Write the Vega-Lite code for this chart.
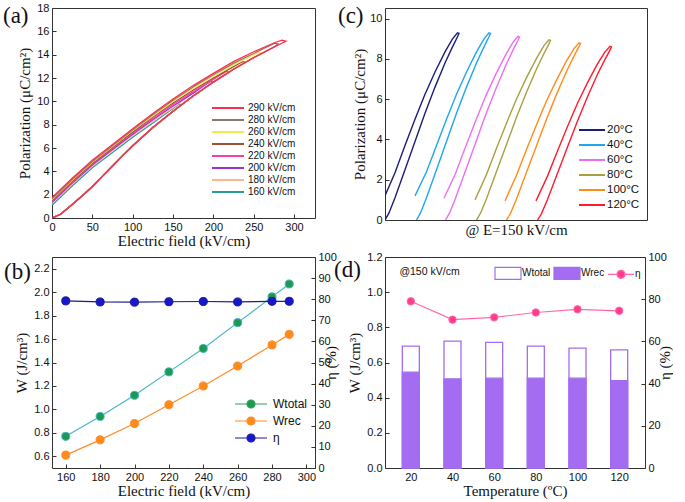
{
"$schema":"https://vega.github.io/schema/vega-lite/v6.json",
"background":"white",
"padding":{"left":2,"top":1,"right":0,"bottom":0},
"datasets":{
"pe":[
{"s":"160 kV/cm","i":0,"E":0,"P":0},{"s":"160 kV/cm","i":1,"E":10,"P":0.3},{"s":"160 kV/cm","i":2,"E":20,"P":0.85},{"s":"160 kV/cm","i":3,"E":30,"P":1.45},{"s":"160 kV/cm","i":4,"E":40,"P":2.05},{"s":"160 kV/cm","i":5,"E":50,"P":2.7},{"s":"160 kV/cm","i":6,"E":62,"P":3.55},{"s":"160 kV/cm","i":7,"E":75,"P":4.45},{"s":"160 kV/cm","i":8,"E":87,"P":5.3},{"s":"160 kV/cm","i":9,"E":100,"P":6.2},{"s":"160 kV/cm","i":10,"E":125,"P":7.75},{"s":"160 kV/cm","i":11,"E":150,"P":9.15},
{"s":"160 kV/cm","i":50,"E":160,"P":9.72},{"s":"160 kV/cm","i":100,"E":157,"P":9.78},{"s":"160 kV/cm","i":101,"E":150,"P":9.38},{"s":"160 kV/cm","i":102,"E":125,"P":8.15},{"s":"160 kV/cm","i":103,"E":100,"P":6.92},{"s":"160 kV/cm","i":104,"E":75,"P":5.62},{"s":"160 kV/cm","i":105,"E":50,"P":4.3},{"s":"160 kV/cm","i":106,"E":25,"P":2.75},{"s":"160 kV/cm","i":107,"E":0,"P":1.1},
{"s":"180 kV/cm","i":0,"E":0,"P":0},{"s":"180 kV/cm","i":1,"E":10,"P":0.3},{"s":"180 kV/cm","i":2,"E":20,"P":0.85},{"s":"180 kV/cm","i":3,"E":30,"P":1.45},{"s":"180 kV/cm","i":4,"E":40,"P":2.05},{"s":"180 kV/cm","i":5,"E":50,"P":2.7},{"s":"180 kV/cm","i":6,"E":62,"P":3.55},{"s":"180 kV/cm","i":7,"E":75,"P":4.45},{"s":"180 kV/cm","i":8,"E":87,"P":5.3},{"s":"180 kV/cm","i":9,"E":100,"P":6.2},{"s":"180 kV/cm","i":10,"E":125,"P":7.75},{"s":"180 kV/cm","i":11,"E":150,"P":9.15},{"s":"180 kV/cm","i":12,"E":175,"P":10.45},
{"s":"180 kV/cm","i":50,"E":180,"P":10.7},{"s":"180 kV/cm","i":100,"E":176,"P":10.77},{"s":"180 kV/cm","i":101,"E":150,"P":9.45},{"s":"180 kV/cm","i":102,"E":125,"P":8.3},{"s":"180 kV/cm","i":103,"E":100,"P":7.07},{"s":"180 kV/cm","i":104,"E":75,"P":5.78},{"s":"180 kV/cm","i":105,"E":50,"P":4.45},{"s":"180 kV/cm","i":106,"E":25,"P":2.9},{"s":"180 kV/cm","i":107,"E":0,"P":1.25},
{"s":"200 kV/cm","i":0,"E":0,"P":0},{"s":"200 kV/cm","i":1,"E":10,"P":0.3},{"s":"200 kV/cm","i":2,"E":20,"P":0.85},{"s":"200 kV/cm","i":3,"E":30,"P":1.45},{"s":"200 kV/cm","i":4,"E":40,"P":2.05},{"s":"200 kV/cm","i":5,"E":50,"P":2.7},{"s":"200 kV/cm","i":6,"E":62,"P":3.55},{"s":"200 kV/cm","i":7,"E":75,"P":4.45},{"s":"200 kV/cm","i":8,"E":87,"P":5.3},{"s":"200 kV/cm","i":9,"E":100,"P":6.2},{"s":"200 kV/cm","i":10,"E":125,"P":7.75},{"s":"200 kV/cm","i":11,"E":150,"P":9.15},{"s":"200 kV/cm","i":12,"E":175,"P":10.45},
{"s":"200 kV/cm","i":50,"E":200,"P":11.65},{"s":"200 kV/cm","i":100,"E":196,"P":11.7},{"s":"200 kV/cm","i":101,"E":175,"P":10.7},{"s":"200 kV/cm","i":102,"E":150,"P":9.6},{"s":"200 kV/cm","i":103,"E":125,"P":8.42},{"s":"200 kV/cm","i":104,"E":100,"P":7.18},{"s":"200 kV/cm","i":105,"E":75,"P":5.88},{"s":"200 kV/cm","i":106,"E":50,"P":4.54},{"s":"200 kV/cm","i":107,"E":25,"P":3.0},{"s":"200 kV/cm","i":108,"E":0,"P":1.35},
{"s":"220 kV/cm","i":0,"E":0,"P":0},{"s":"220 kV/cm","i":1,"E":10,"P":0.3},{"s":"220 kV/cm","i":2,"E":20,"P":0.85},{"s":"220 kV/cm","i":3,"E":30,"P":1.45},{"s":"220 kV/cm","i":4,"E":40,"P":2.05},{"s":"220 kV/cm","i":5,"E":50,"P":2.7},{"s":"220 kV/cm","i":6,"E":62,"P":3.55},{"s":"220 kV/cm","i":7,"E":75,"P":4.45},{"s":"220 kV/cm","i":8,"E":87,"P":5.3},{"s":"220 kV/cm","i":9,"E":100,"P":6.2},{"s":"220 kV/cm","i":10,"E":125,"P":7.75},{"s":"220 kV/cm","i":11,"E":150,"P":9.15},{"s":"220 kV/cm","i":12,"E":175,"P":10.45},{"s":"220 kV/cm","i":13,"E":200,"P":11.65},
{"s":"220 kV/cm","i":50,"E":220,"P":12.5},{"s":"220 kV/cm","i":100,"E":216,"P":12.56},{"s":"220 kV/cm","i":101,"E":200,"P":11.88},{"s":"220 kV/cm","i":102,"E":175,"P":10.83},{"s":"220 kV/cm","i":103,"E":150,"P":9.73},{"s":"220 kV/cm","i":104,"E":125,"P":8.53},{"s":"220 kV/cm","i":105,"E":100,"P":7.28},{"s":"220 kV/cm","i":106,"E":75,"P":5.96},{"s":"220 kV/cm","i":107,"E":50,"P":4.62},{"s":"220 kV/cm","i":108,"E":25,"P":3.07},{"s":"220 kV/cm","i":109,"E":0,"P":1.42},
{"s":"240 kV/cm","i":0,"E":0,"P":0},{"s":"240 kV/cm","i":1,"E":10,"P":0.3},{"s":"240 kV/cm","i":2,"E":20,"P":0.85},{"s":"240 kV/cm","i":3,"E":30,"P":1.45},{"s":"240 kV/cm","i":4,"E":40,"P":2.05},{"s":"240 kV/cm","i":5,"E":50,"P":2.7},{"s":"240 kV/cm","i":6,"E":62,"P":3.55},{"s":"240 kV/cm","i":7,"E":75,"P":4.45},{"s":"240 kV/cm","i":8,"E":87,"P":5.3},{"s":"240 kV/cm","i":9,"E":100,"P":6.2},{"s":"240 kV/cm","i":10,"E":125,"P":7.75},{"s":"240 kV/cm","i":11,"E":150,"P":9.15},{"s":"240 kV/cm","i":12,"E":175,"P":10.45},{"s":"240 kV/cm","i":13,"E":200,"P":11.65},{"s":"240 kV/cm","i":14,"E":225,"P":12.75},
{"s":"240 kV/cm","i":50,"E":240,"P":13.35},{"s":"240 kV/cm","i":100,"E":236,"P":13.4},{"s":"240 kV/cm","i":101,"E":225,"P":12.97},{"s":"240 kV/cm","i":102,"E":200,"P":12.0},{"s":"240 kV/cm","i":103,"E":175,"P":10.97},{"s":"240 kV/cm","i":104,"E":150,"P":9.86},{"s":"240 kV/cm","i":105,"E":125,"P":8.65},{"s":"240 kV/cm","i":106,"E":100,"P":7.38},{"s":"240 kV/cm","i":107,"E":75,"P":6.05},{"s":"240 kV/cm","i":108,"E":50,"P":4.7},{"s":"240 kV/cm","i":109,"E":25,"P":3.15},{"s":"240 kV/cm","i":110,"E":0,"P":1.5},
{"s":"260 kV/cm","i":0,"E":0,"P":0},{"s":"260 kV/cm","i":1,"E":10,"P":0.3},{"s":"260 kV/cm","i":2,"E":20,"P":0.85},{"s":"260 kV/cm","i":3,"E":30,"P":1.45},{"s":"260 kV/cm","i":4,"E":40,"P":2.05},{"s":"260 kV/cm","i":5,"E":50,"P":2.7},{"s":"260 kV/cm","i":6,"E":62,"P":3.55},{"s":"260 kV/cm","i":7,"E":75,"P":4.45},{"s":"260 kV/cm","i":8,"E":87,"P":5.3},{"s":"260 kV/cm","i":9,"E":100,"P":6.2},{"s":"260 kV/cm","i":10,"E":125,"P":7.75},{"s":"260 kV/cm","i":11,"E":150,"P":9.15},{"s":"260 kV/cm","i":12,"E":175,"P":10.45},{"s":"260 kV/cm","i":13,"E":200,"P":11.65},{"s":"260 kV/cm","i":14,"E":225,"P":12.75},{"s":"260 kV/cm","i":15,"E":250,"P":13.75},
{"s":"260 kV/cm","i":50,"E":260,"P":14.12},{"s":"260 kV/cm","i":100,"E":256,"P":14.19},{"s":"260 kV/cm","i":101,"E":250,"P":13.97},{"s":"260 kV/cm","i":102,"E":225,"P":13.1},{"s":"260 kV/cm","i":103,"E":200,"P":12.15},{"s":"260 kV/cm","i":104,"E":175,"P":11.1},{"s":"260 kV/cm","i":105,"E":150,"P":9.98},{"s":"260 kV/cm","i":106,"E":125,"P":8.75},{"s":"260 kV/cm","i":107,"E":100,"P":7.47},{"s":"260 kV/cm","i":108,"E":75,"P":6.12},{"s":"260 kV/cm","i":109,"E":50,"P":4.78},{"s":"260 kV/cm","i":110,"E":25,"P":3.23},{"s":"260 kV/cm","i":111,"E":0,"P":1.58},
{"s":"280 kV/cm","i":0,"E":0,"P":0},{"s":"280 kV/cm","i":1,"E":10,"P":0.3},{"s":"280 kV/cm","i":2,"E":20,"P":0.85},{"s":"280 kV/cm","i":3,"E":30,"P":1.45},{"s":"280 kV/cm","i":4,"E":40,"P":2.05},{"s":"280 kV/cm","i":5,"E":50,"P":2.7},{"s":"280 kV/cm","i":6,"E":62,"P":3.55},{"s":"280 kV/cm","i":7,"E":75,"P":4.45},{"s":"280 kV/cm","i":8,"E":87,"P":5.3},{"s":"280 kV/cm","i":9,"E":100,"P":6.2},{"s":"280 kV/cm","i":10,"E":125,"P":7.75},{"s":"280 kV/cm","i":11,"E":150,"P":9.15},{"s":"280 kV/cm","i":12,"E":175,"P":10.45},{"s":"280 kV/cm","i":13,"E":200,"P":11.65},{"s":"280 kV/cm","i":14,"E":225,"P":12.75},{"s":"280 kV/cm","i":15,"E":250,"P":13.75},{"s":"280 kV/cm","i":16,"E":275,"P":14.65},
{"s":"280 kV/cm","i":50,"E":280,"P":14.92},{"s":"280 kV/cm","i":100,"E":276,"P":14.98},{"s":"280 kV/cm","i":101,"E":250,"P":14.1},{"s":"280 kV/cm","i":102,"E":225,"P":13.25},{"s":"280 kV/cm","i":103,"E":200,"P":12.28},{"s":"280 kV/cm","i":104,"E":175,"P":11.23},{"s":"280 kV/cm","i":105,"E":150,"P":10.1},{"s":"280 kV/cm","i":106,"E":125,"P":8.85},{"s":"280 kV/cm","i":107,"E":100,"P":7.55},{"s":"280 kV/cm","i":108,"E":75,"P":6.2},{"s":"280 kV/cm","i":109,"E":50,"P":4.85},{"s":"280 kV/cm","i":110,"E":25,"P":3.3},{"s":"280 kV/cm","i":111,"E":0,"P":1.65},
{"s":"290 kV/cm","i":0,"E":0,"P":0},{"s":"290 kV/cm","i":1,"E":10,"P":0.3},{"s":"290 kV/cm","i":2,"E":20,"P":0.85},{"s":"290 kV/cm","i":3,"E":30,"P":1.45},{"s":"290 kV/cm","i":4,"E":40,"P":2.05},{"s":"290 kV/cm","i":5,"E":50,"P":2.7},{"s":"290 kV/cm","i":6,"E":62,"P":3.55},{"s":"290 kV/cm","i":7,"E":75,"P":4.45},{"s":"290 kV/cm","i":8,"E":87,"P":5.3},{"s":"290 kV/cm","i":9,"E":100,"P":6.2},{"s":"290 kV/cm","i":10,"E":125,"P":7.75},{"s":"290 kV/cm","i":11,"E":150,"P":9.15},{"s":"290 kV/cm","i":12,"E":175,"P":10.45},{"s":"290 kV/cm","i":13,"E":200,"P":11.65},{"s":"290 kV/cm","i":14,"E":225,"P":12.75},{"s":"290 kV/cm","i":15,"E":250,"P":13.75},{"s":"290 kV/cm","i":16,"E":275,"P":14.65},
{"s":"290 kV/cm","i":50,"E":290,"P":15.15},{"s":"290 kV/cm","i":100,"E":285,"P":15.25},{"s":"290 kV/cm","i":101,"E":275,"P":15.0},{"s":"290 kV/cm","i":102,"E":250,"P":14.25},{"s":"290 kV/cm","i":103,"E":225,"P":13.4},{"s":"290 kV/cm","i":104,"E":200,"P":12.4},{"s":"290 kV/cm","i":105,"E":175,"P":11.35},{"s":"290 kV/cm","i":106,"E":150,"P":10.2},{"s":"290 kV/cm","i":107,"E":125,"P":8.95},{"s":"290 kV/cm","i":108,"E":100,"P":7.65},{"s":"290 kV/cm","i":109,"E":75,"P":6.3},{"s":"290 kV/cm","i":110,"E":50,"P":4.95},{"s":"290 kV/cm","i":111,"E":25,"P":3.4},{"s":"290 kV/cm","i":112,"E":0,"P":1.75}
],
"pc":[
{"t":"20°C","i":0,"x":0,"P":0},{"t":"20°C","i":1,"x":8,"P":0.35},{"t":"20°C","i":2,"x":20,"P":1.1},{"t":"20°C","i":3,"x":40,"P":2.5},{"t":"20°C","i":4,"x":60,"P":3.9},{"t":"20°C","i":5,"x":80,"P":5.3},{"t":"20°C","i":6,"x":100,"P":6.6},{"t":"20°C","i":7,"x":120,"P":7.8},{"t":"20°C","i":8,"x":135,"P":8.6},{"t":"20°C","i":9,"x":145,"P":9.1},{"t":"20°C","i":10,"x":148,"P":9.27},{"t":"20°C","i":11,"x":145,"P":9.3},{"t":"20°C","i":12,"x":135,"P":9.0},{"t":"20°C","i":13,"x":120,"P":8.35},{"t":"20°C","i":14,"x":100,"P":7.35},{"t":"20°C","i":15,"x":80,"P":6.25},{"t":"20°C","i":16,"x":60,"P":5.0},{"t":"20°C","i":17,"x":40,"P":3.7},{"t":"20°C","i":18,"x":20,"P":2.35},{"t":"20°C","i":19,"x":-3,"P":1.03},
{"t":"40°C","i":0,"x":63,"P":0},{"t":"40°C","i":1,"x":71,"P":0.35},{"t":"40°C","i":2,"x":83,"P":1.1},{"t":"40°C","i":3,"x":103,"P":2.5},{"t":"40°C","i":4,"x":123,"P":3.9},{"t":"40°C","i":5,"x":143,"P":5.3},{"t":"40°C","i":6,"x":163,"P":6.6},{"t":"40°C","i":7,"x":183,"P":7.8},{"t":"40°C","i":8,"x":198,"P":8.6},{"t":"40°C","i":9,"x":208,"P":9.1},{"t":"40°C","i":10,"x":211,"P":9.27},{"t":"40°C","i":11,"x":208,"P":9.3},{"t":"40°C","i":12,"x":198,"P":9.0},{"t":"40°C","i":13,"x":183,"P":8.35},{"t":"40°C","i":14,"x":163,"P":7.35},{"t":"40°C","i":15,"x":143,"P":6.25},{"t":"40°C","i":16,"x":123,"P":5.0},{"t":"40°C","i":17,"x":103,"P":3.7},{"t":"40°C","i":18,"x":83,"P":2.4},{"t":"40°C","i":19,"x":60,"P":1.2},
{"t":"60°C","i":0,"x":121,"P":0},{"t":"60°C","i":1,"x":129,"P":0.34},{"t":"60°C","i":2,"x":141,"P":1.08},{"t":"60°C","i":3,"x":161,"P":2.45},{"t":"60°C","i":4,"x":181,"P":3.83},{"t":"60°C","i":5,"x":201,"P":5.2},{"t":"60°C","i":6,"x":221,"P":6.47},{"t":"60°C","i":7,"x":241,"P":7.65},{"t":"60°C","i":8,"x":256,"P":8.44},{"t":"60°C","i":9,"x":266,"P":8.93},{"t":"60°C","i":10,"x":269,"P":9.09},{"t":"60°C","i":11,"x":266,"P":9.12},{"t":"60°C","i":12,"x":256,"P":8.83},{"t":"60°C","i":13,"x":241,"P":8.19},{"t":"60°C","i":14,"x":221,"P":7.21},{"t":"60°C","i":15,"x":201,"P":6.13},{"t":"60°C","i":16,"x":181,"P":4.9},{"t":"60°C","i":17,"x":161,"P":3.63},{"t":"60°C","i":18,"x":141,"P":2.31},{"t":"60°C","i":19,"x":118,"P":1.08},
{"t":"80°C","i":0,"x":183,"P":0},{"t":"80°C","i":1,"x":191,"P":0.34},{"t":"80°C","i":2,"x":203,"P":1.06},{"t":"80°C","i":3,"x":223,"P":2.41},{"t":"80°C","i":4,"x":243,"P":3.75},{"t":"80°C","i":5,"x":263,"P":5.1},{"t":"80°C","i":6,"x":283,"P":6.35},{"t":"80°C","i":7,"x":303,"P":7.5},{"t":"80°C","i":8,"x":318,"P":8.27},{"t":"80°C","i":9,"x":328,"P":8.75},{"t":"80°C","i":10,"x":331,"P":8.92},{"t":"80°C","i":11,"x":328,"P":8.95},{"t":"80°C","i":12,"x":318,"P":8.66},{"t":"80°C","i":13,"x":303,"P":8.03},{"t":"80°C","i":14,"x":283,"P":7.07},{"t":"80°C","i":15,"x":263,"P":6.01},{"t":"80°C","i":16,"x":243,"P":4.81},{"t":"80°C","i":17,"x":223,"P":3.56},{"t":"80°C","i":18,"x":203,"P":2.26},{"t":"80°C","i":19,"x":180,"P":1.0},
{"t":"100°C","i":0,"x":243,"P":0},{"t":"100°C","i":1,"x":251,"P":0.33},{"t":"100°C","i":2,"x":263,"P":1.04},{"t":"100°C","i":3,"x":283,"P":2.37},{"t":"100°C","i":4,"x":303,"P":3.69},{"t":"100°C","i":5,"x":323,"P":5.01},{"t":"100°C","i":6,"x":343,"P":6.24},{"t":"100°C","i":7,"x":363,"P":7.38},{"t":"100°C","i":8,"x":378,"P":8.14},{"t":"100°C","i":9,"x":388,"P":8.61},{"t":"100°C","i":10,"x":391,"P":8.77},{"t":"100°C","i":11,"x":388,"P":8.8},{"t":"100°C","i":12,"x":378,"P":8.51},{"t":"100°C","i":13,"x":363,"P":7.9},{"t":"100°C","i":14,"x":343,"P":6.95},{"t":"100°C","i":15,"x":323,"P":5.91},{"t":"100°C","i":16,"x":303,"P":4.73},{"t":"100°C","i":17,"x":283,"P":3.5},{"t":"100°C","i":18,"x":263,"P":2.22},{"t":"100°C","i":19,"x":240,"P":0.95},
{"t":"120°C","i":0,"x":305,"P":0},{"t":"120°C","i":1,"x":313,"P":0.32},{"t":"120°C","i":2,"x":325,"P":1.02},{"t":"120°C","i":3,"x":345,"P":2.32},{"t":"120°C","i":4,"x":365,"P":3.62},{"t":"120°C","i":5,"x":385,"P":4.92},{"t":"120°C","i":6,"x":405,"P":6.12},{"t":"120°C","i":7,"x":425,"P":7.24},{"t":"120°C","i":8,"x":440,"P":7.98},{"t":"120°C","i":9,"x":450,"P":8.44},{"t":"120°C","i":10,"x":453,"P":8.6},{"t":"120°C","i":11,"x":450,"P":8.63},{"t":"120°C","i":12,"x":440,"P":8.35},{"t":"120°C","i":13,"x":425,"P":7.75},{"t":"120°C","i":14,"x":405,"P":6.82},{"t":"120°C","i":15,"x":385,"P":5.8},{"t":"120°C","i":16,"x":365,"P":4.64},{"t":"120°C","i":17,"x":345,"P":3.43},{"t":"120°C","i":18,"x":325,"P":2.18},{"t":"120°C","i":19,"x":302,"P":0.95}
],
"wb":[
{"E":160,"s":"Wtotal","v":0.77},{"E":180,"s":"Wtotal","v":0.94},{"E":200,"s":"Wtotal","v":1.12},{"E":220,"s":"Wtotal","v":1.32},{"E":240,"s":"Wtotal","v":1.52},{"E":260,"s":"Wtotal","v":1.74},{"E":280,"s":"Wtotal","v":1.96},{"E":290,"s":"Wtotal","v":2.07},
{"E":160,"s":"Wrec","v":0.61},{"E":180,"s":"Wrec","v":0.74},{"E":200,"s":"Wrec","v":0.88},{"E":220,"s":"Wrec","v":1.04},{"E":240,"s":"Wrec","v":1.2},{"E":260,"s":"Wrec","v":1.37},{"E":280,"s":"Wrec","v":1.55},{"E":290,"s":"Wrec","v":1.64},
{"E":160,"s":"η","v":79.2},{"E":180,"s":"η","v":78.7},{"E":200,"s":"η","v":78.6},{"E":220,"s":"η","v":78.8},{"E":240,"s":"η","v":78.9},{"E":260,"s":"η","v":78.7},{"E":280,"s":"η","v":79.0},{"E":290,"s":"η","v":79.0}
],
"wd":[
{"T":20,"s":"Wtotal","v":0.693},{"T":40,"s":"Wtotal","v":0.721},{"T":60,"s":"Wtotal","v":0.714},{"T":80,"s":"Wtotal","v":0.693},{"T":100,"s":"Wtotal","v":0.682},{"T":120,"s":"Wtotal","v":0.672},
{"T":20,"s":"Wrec","v":0.545},{"T":40,"s":"Wrec","v":0.507},{"T":60,"s":"Wrec","v":0.511},{"T":80,"s":"Wrec","v":0.511},{"T":100,"s":"Wrec","v":0.511},{"T":120,"s":"Wrec","v":0.497},
{"T":20,"s":"η","v":79.0},{"T":40,"s":"η","v":70.3},{"T":60,"s":"η","v":71.4},{"T":80,"s":"η","v":73.7},{"T":100,"s":"η","v":75.2},{"T":120,"s":"η","v":74.5}
]
},
"concat":[
 {"width":263,"height":210,
  "title":{"text":"(a)","dx":-49,"dy":29.5},
  "data":{"name":"pe"},
  "mark":{"type":"line","strokeWidth":1.3,"clip":true},
  "encoding":{
   "x":{"field":"E","type":"quantitative","scale":{"domain":[0,326],"nice":false},"axis":{"title":"Electric field (kV/cm)","values":[0,50,100,150,200,250,300],"titlePadding":1}},
   "y":{"field":"P","type":"quantitative","scale":{"domain":[0,18],"nice":false},"axis":{"title":"Polarization (μC/cm²)","values":[0,2,4,6,8,10,12,14,16,18],"titlePadding":4}},
   "color":{"field":"s","type":"nominal","scale":{"domain":["290 kV/cm","280 kV/cm","260 kV/cm","240 kV/cm","220 kV/cm","200 kV/cm","180 kV/cm","160 kV/cm"],"range":["#ff2d4d","#8c7b6a","#f3e84e","#a0502e","#f53fae","#9b2fd2","#ffb78f","#2b9c9c"]},
    "legend":{"title":null,"orient":"none","legendX":170,"legendY":94,"symbolType":"M-3.2,0H3.2","symbolSize":100,"symbolStrokeWidth":2,"labelFontSize":10,"labelOffset":14,"rowPadding":1}},
   "order":{"field":"i","type":"quantitative"}
  }
 },
 {"width":44,"height":1,"data":{"values":[{"a":1}]},"mark":{"type":"point","opacity":0},"encoding":{},"view":{"stroke":null}},
 {"width":262,"height":212,
  "title":{"text":"(c)","dx":-47,"dy":24},
  "data":{"name":"pc"},
  "mark":{"type":"line","strokeWidth":1.4,"clip":true},
  "encoding":{
   "x":{"field":"x","type":"quantitative","scale":{"domain":[0,524],"nice":false},"axis":{"title":"@ E=150 kV/cm","labels":false,"ticks":false,"titlePadding":2}},
   "y":{"field":"P","type":"quantitative","scale":{"domain":[0,10.53],"nice":false},"axis":{"title":"Polarization (μC/cm²)","values":[0,2,4,6,8,10],"titlePadding":2}},
   "color":{"field":"t","type":"nominal","scale":{"domain":["20°C","40°C","60°C","80°C","100°C","120°C"],"range":["#1c1c7c","#1ea6f0","#ee6ef0","#a8a040","#ff8c1a","#ff1a30"]},
    "legend":{"title":null,"orient":"none","legendX":201,"legendY":116,"symbolType":"M-2.6,0H2.6","symbolSize":100,"symbolStrokeWidth":2,"labelFontSize":11.5,"labelOffset":9,"rowPadding":3}},
   "order":{"field":"i","type":"quantitative"}
  }
 },
 {"width":263,"height":211,
  "title":{"text":"(b)","dx":-48,"dy":37},
  "data":{"name":"wb"},
  "encoding":{"x":{"field":"E","type":"quantitative","scale":{"domain":[152,305],"nice":false},"axis":{"title":"Electric field (kV/cm)","values":[160,180,200,220,240,260,280,300],"titlePadding":1}}},
  "layer":[
   {"transform":[{"filter":"datum.s !== 'η'"}],
    "encoding":{"y":{"field":"v","type":"quantitative","scale":{"domain":[0.5,2.3],"nice":false},"axis":{"title":"W (J/cm³)","values":[0.6,0.8,1.0,1.2,1.4,1.6,1.8,2.0,2.2],"format":".1f","titlePadding":4}}},
    "layer":[
     {"mark":{"type":"line","strokeWidth":1.2},"encoding":{"stroke":{"field":"s","type":"nominal","scale":{"domain":["η","Wrec","Wtotal"],"range":["#1a1a8c","#ff8c2a","#45b7c9"]},"legend":null}}},
     {"mark":{"type":"point","shape":"circle","filled":true,"size":65,"opacity":1,"strokeWidth":1},"encoding":{
       "fill":{"field":"s","type":"nominal","scale":{"domain":["Wtotal","Wrec","η"],"range":["#1e9a50","#ff8a1c","#1717cf"]},
        "legend":{"title":null,"orient":"none","legendX":193,"legendY":141,"symbolType":"M-3.2,0H-0.8M0.8,0H3.2M-0.8,0A0.8,0.8,0,1,1,0.8,0A0.8,0.8,0,1,1,-0.8,0Z","symbolSize":100,"symbolStrokeWidth":1.2,"symbolOpacity":1,"labelFontSize":12,"labelOffset":16,"rowPadding":3,"encode":{"symbols":{"update":{"stroke":{"signal":"datum.value === 'Wtotal' ? '#2e9e5a' : datum.value === 'Wrec' ? '#ff8a26' : '#1b1b9a'"}}}}}},
       "stroke":{"field":"s","type":"nominal","scale":{"domain":["η","Wrec","Wtotal"],"range":["#1a1a8c","#ff8c2a","#45b7c9"]},"legend":null}}}
    ]},
   {"transform":[{"filter":"datum.s === 'η'"}],
    "encoding":{"y":{"field":"v","type":"quantitative","scale":{"domain":[0,100],"nice":false},"axis":{"orient":"right","title":"η (%)","titleAngle":270,"values":[0,10,20,30,40,50,60,70,80,90,100],"titlePadding":2}}},
    "layer":[
     {"mark":{"type":"line","strokeWidth":1.2},"encoding":{"stroke":{"field":"s","type":"nominal","scale":{"domain":["η","Wrec","Wtotal"],"range":["#1a1a8c","#ff8c2a","#45b7c9"]},"legend":null}}},
     {"mark":{"type":"point","shape":"circle","filled":true,"size":65,"opacity":1,"strokeWidth":1},"encoding":{
       "fill":{"field":"s","type":"nominal","scale":{"domain":["Wtotal","Wrec","η"],"range":["#1e9a50","#ff8a1c","#1717cf"]},
        "legend":{"title":null,"orient":"none","legendX":193,"legendY":141,"symbolType":"M-3.2,0H-0.8M0.8,0H3.2M-0.8,0A0.8,0.8,0,1,1,0.8,0A0.8,0.8,0,1,1,-0.8,0Z","symbolSize":100,"symbolStrokeWidth":1.2,"symbolOpacity":1,"labelFontSize":12,"labelOffset":16,"rowPadding":3,"encode":{"symbols":{"update":{"stroke":{"signal":"datum.value === 'Wtotal' ? '#2e9e5a' : datum.value === 'Wrec' ? '#ff8a26' : '#1b1b9a'"}}}}}},
       "stroke":{"field":"s","type":"nominal","scale":{"domain":["η","Wrec","Wtotal"],"range":["#1a1a8c","#ff8c2a","#45b7c9"]},"legend":null}}}
    ]}
  ],
  "resolve":{"scale":{"y":"independent"}}
 },
 {"width":68,"height":1,"data":{"values":[{"a":1}]},"mark":{"type":"point","opacity":0},"encoding":{},"view":{"stroke":null}},
 {"width":260,"height":211,
   "title":{"text":"(d)","dx":-51,"dy":35},
   "data":{"name":"wd"},
   "encoding":{"x":{"field":"T","type":"quantitative","scale":{"domain":[10,130],"nice":false},"axis":{"title":"Temperature (ºC)","values":[20,40,60,80,100,120],"titlePadding":1}}},
   "layer":[
    {"encoding":{"y":{"field":"v","type":"quantitative","stack":null,"scale":{"domain":[0,1.2],"nice":false},"axis":{"title":"W (J/cm³)","values":[0,0.2,0.4,0.6,0.8,1.0,1.2],"format":".1f","titlePadding":4}}},
     "layer":[
      {"transform":[{"filter":"datum.s === 'Wtotal'"}],"mark":{"type":"bar","size":17,"strokeWidth":1.3},"encoding":{
        "fill":{"field":"s","type":"nominal","scale":{"domain":["Wtotal","Wrec","η"],"range":["#ffffff","#a46cf0","#ff3d8c"]},
         "legend":{"title":null,"orient":"none","direction":"horizontal","legendX":117,"legendY":10,"symbolType":"M-2.6,-1.2H2.6V1.2H-2.6Z","symbolSize":100,"symbolStrokeWidth":1.2,"symbolOpacity":1,"labelFontSize":10,"labelOffset":8,"columnPadding":0,"encode":{"symbols":{"update":{"shape":{"signal":"datum.value === 'η' ? 'M-2.6,0H-0.8M0.8,0H2.6M-0.8,0A0.8,0.8,0,1,1,0.8,0A0.8,0.8,0,1,1,-0.8,0Z' : 'M-2.6,-1.2H2.6V1.2H-2.6Z'"},"stroke":{"signal":"datum.value === 'η' ? '#ff5f9e' : '#a46cf0'"}}}}}},
        "stroke":{"field":"s","type":"nominal","scale":{"domain":["Wtotal","Wrec","η"],"range":["#a46cf0","#a46cf0","#ff69a8"]},"legend":null}}},
      {"transform":[{"filter":"datum.s === 'Wrec'"}],"mark":{"type":"bar","size":17,"strokeWidth":1.3},"encoding":{
        "fill":{"field":"s","type":"nominal","scale":{"domain":["Wtotal","Wrec","η"],"range":["#ffffff","#a46cf0","#ff3d8c"]},
         "legend":{"title":null,"orient":"none","direction":"horizontal","legendX":117,"legendY":10,"symbolType":"M-2.6,-1.2H2.6V1.2H-2.6Z","symbolSize":100,"symbolStrokeWidth":1.2,"symbolOpacity":1,"labelFontSize":10,"labelOffset":8,"columnPadding":0,"encode":{"symbols":{"update":{"shape":{"signal":"datum.value === 'η' ? 'M-2.6,0H-0.8M0.8,0H2.6M-0.8,0A0.8,0.8,0,1,1,0.8,0A0.8,0.8,0,1,1,-0.8,0Z' : 'M-2.6,-1.2H2.6V1.2H-2.6Z'"},"stroke":{"signal":"datum.value === 'η' ? '#ff5f9e' : '#a46cf0'"}}}}}},
        "stroke":{"field":"s","type":"nominal","scale":{"domain":["Wtotal","Wrec","η"],"range":["#a46cf0","#a46cf0","#ff69a8"]},"legend":null}}},
      {"data":{"values":[{"label":"@150 kV/cm","T":14.5,"v":1.113}]},"mark":{"type":"text","align":"left","baseline":"middle","fontSize":10.5,"font":"Liberation Sans","color":"#111"},"encoding":{"text":{"field":"label"}}}
     ]},
    {"transform":[{"filter":"datum.s === 'η'"}],
     "encoding":{"y":{"field":"v","type":"quantitative","scale":{"domain":[0,100],"nice":false},"axis":{"orient":"right","title":"η (%)","titleAngle":270,"values":[0,20,40,60,80,100],"titlePadding":6}}},
     "layer":[
      {"mark":{"type":"line","strokeWidth":1.2},"encoding":{"stroke":{"field":"s","type":"nominal","scale":{"domain":["Wtotal","Wrec","η"],"range":["#a46cf0","#a46cf0","#ff69a8"]},"legend":null}}},
      {"mark":{"type":"point","shape":"circle","filled":true,"size":55,"opacity":1,"strokeWidth":1},"encoding":{
        "fill":{"field":"s","type":"nominal","scale":{"domain":["Wtotal","Wrec","η"],"range":["#ffffff","#a46cf0","#ff3d8c"]},
         "legend":{"title":null,"orient":"none","direction":"horizontal","legendX":117,"legendY":10,"symbolType":"M-2.6,-1.2H2.6V1.2H-2.6Z","symbolSize":100,"symbolStrokeWidth":1.2,"symbolOpacity":1,"labelFontSize":10,"labelOffset":8,"columnPadding":0,"encode":{"symbols":{"update":{"shape":{"signal":"datum.value === 'η' ? 'M-2.6,0H-0.8M0.8,0H2.6M-0.8,0A0.8,0.8,0,1,1,0.8,0A0.8,0.8,0,1,1,-0.8,0Z' : 'M-2.6,-1.2H2.6V1.2H-2.6Z'"},"stroke":{"signal":"datum.value === 'η' ? '#ff5f9e' : '#a46cf0'"}}}}}},
        "stroke":{"field":"s","type":"nominal","scale":{"domain":["Wtotal","Wrec","η"],"range":["#a46cf0","#a46cf0","#ff69a8"]},"legend":null}}}
     ]}
   ],
   "resolve":{"scale":{"y":"independent"}}
 }
],
"columns":3,
"align":{"row":"all","column":"none"},
"spacing":{"row":37,"column":1},
"bounds":"flush",
"resolve":{"scale":{"x":"independent","y":"independent","color":"independent","fill":"independent","stroke":"independent"},"legend":{"color":"independent","fill":"independent","stroke":"independent"}},
"config":{
 "font":"Liberation Sans",
 "view":{"stroke":"#333","strokeWidth":1},
 "axis":{"domain":false,"grid":false,"labelFont":"Liberation Sans","labelFontSize":11,"labelColor":"#111","titleFont":"Liberation Serif","titleFontSize":15,"titleFontWeight":"normal","titleColor":"#111","tickColor":"#333","tickSize":-4,"labelPadding":7,"labelFlush":false,"labelOverlap":false},
 "legend":{"labelFont":"Liberation Sans","labelColor":"#111","padding":0},
 "title":{"font":"Liberation Serif","fontSize":23,"fontWeight":"normal","anchor":"start","frame":"group","offset":0,"baseline":"middle","color":"#111"}
}
}
